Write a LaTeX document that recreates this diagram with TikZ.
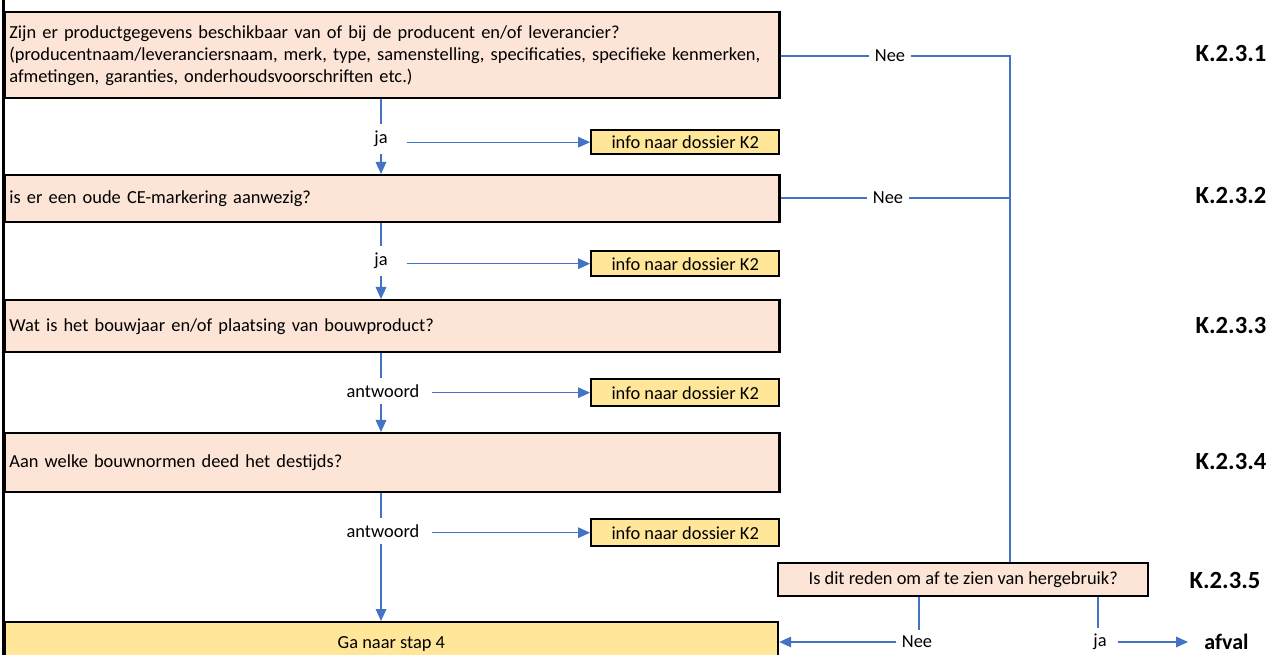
\documentclass[tikz,border=0pt]{standalone}
\usepackage{fontspec}
\setmainfont{Carlito}
\usetikzlibrary{arrows.meta}
\definecolor{peach}{HTML}{FCE4D6}
\definecolor{gold}{HTML}{FFE699}
\definecolor{conn}{HTML}{4472C4}
\begin{document}
\begin{tikzpicture}[x=0.75pt,y=-0.75pt,
  font=\fontsize{13.8}{16.5}\selectfont,
  qbox/.style={draw=black, line width=1.8pt, fill=peach, anchor=north west,
    align=left, text width=574pt, inner xsep=3.5pt, inner ysep=0pt, minimum width=581pt},
  ibox/.style={draw=black, line width=1.8pt, fill=gold, anchor=north west,
    inner sep=0pt, minimum width=141pt},
  lbl/.style={inner xsep=9pt, inner ysep=5pt},
  nlbl/.style={inner xsep=4pt, inner ysep=4pt},
  klbl/.style={font=\fontsize{18.5}{20}\selectfont\bfseries, inner sep=0pt},
  conn/.style={draw=conn, line width=0.8pt},
  arr/.style={conn, -{Triangle[length=9pt, width=8pt]}}]
\clip (0,0) rectangle (1281,655);
\fill[white] (0,0) rectangle (1281,655);
\draw[line width=1.8pt] (3.5,0) -- (3.5,655);
% question boxes
\node[qbox, minimum height=64.5pt] (q1) at (3.5,11) {Zijn er productgegevens beschikbaar van of bij de producent en/of leverancier?\\(producentnaam/leveranciersnaam, merk, type, samenstelling, specificaties, specifieke kenmerken,\\afmetingen, garanties, onderhoudsvoorschriften etc.)};
\node[qbox, minimum height=35.25pt] (q2) at (3.5,174) {is er een oude CE-markering aanwezig?};
\node[qbox, minimum height=39pt] (q3) at (3.5,299) {Wat is het bouwjaar en/of plaatsing van bouwproduct?};
\node[qbox, minimum height=44.25pt] (q4) at (3.5,432) {Aan welke bouwnormen deed het destijds?};
\node[draw=black, line width=1.8pt, fill=gold, anchor=north west, minimum width=580pt, minimum height=32pt, inner sep=0pt] (go) at (3.5,621) {Ga naar stap 4};
\node[draw=black, line width=1.8pt, fill=peach, anchor=north west, minimum width=277.5pt, minimum height=24.75pt, inner sep=0pt] (isdit) at (777,562) {Is dit reden om af te zien van hergebruik?};
% info boxes
\node[ibox, minimum height=18pt] (i1) at (590,129) {info naar dossier K2};
\node[ibox, minimum height=18.75pt] (i2) at (590,250) {info naar dossier K2};
\node[ibox, minimum height=20.25pt] (i3) at (590,378) {info naar dossier K2};
\node[ibox, minimum height=20.25pt] (i4) at (590,518) {info naar dossier K2};
% labels
\node[lbl, inner xsep=14pt] (ja1) at (381,139) {ja};
\node[lbl, inner xsep=14pt] (ja2) at (381,261) {ja};
\node[lbl] (an1) at (383,391) {antwoord};
\node[lbl] (an2) at (383,531) {antwoord};
\node[nlbl] (nee1) at (890,56) {Nee};
\node[nlbl] (nee2) at (888,198) {Nee};
\node[nlbl] (nee3) at (917,642) {Nee};
\node[nlbl, inner xsep=8pt] (ja3) at (1100,642) {ja};
\node[font=\fontsize{16.5}{18}\selectfont\bfseries, inner xsep=12pt, inner ysep=0pt, anchor=west] (afval) at (1188,642) {afval};
\coordinate (cr) at (1010,56);
% K labels
\node[klbl] (k1) at (1231,54) {K.2.3.1};
\node[klbl] (k2) at (1231,196) {K.2.3.2};
\node[klbl] (k3) at (1231,325) {K.2.3.3};
\node[klbl] (k4) at (1231,461) {K.2.3.4};
\node[klbl] (k5) at (1225,580) {K.2.3.5};
% connectors
\draw[conn] (q1.south -| ja1) -- (ja1.north);
\draw[arr] (ja1.south) -- (q2.north -| ja1);
\draw[arr] (ja1.east |- i1.west) -- (i1.west);
\draw[conn] (q2.south -| ja2) -- (ja2.north);
\draw[arr] (ja2.south) -- (q3.north -| ja2);
\draw[arr] (ja2.east |- i2.west) -- (i2.west);
\draw[conn] (q3.south -| ja1) -- (ja1 |- an1.north);
\draw[arr] (ja1 |- an1.south) -- (q4.north -| ja1);
\draw[arr] (an1.east |- i3.west) -- (i3.west);
\draw[conn] (q4.south -| ja1) -- (ja1 |- an2.north);
\draw[arr] (ja1 |- an2.south) -- (go.north -| ja1);
\draw[arr] (an2.east |- i4.west) -- (i4.west);
\draw[conn] (q1.east |- nee1) -- (nee1.west);
\draw[conn] (nee1.east) -- (cr) -- (cr |- isdit.north);
\draw[conn] (q2.east |- nee2) -- (nee2.west);
\draw[conn] (nee2.east) -- (cr |- nee2);
\draw[conn] (isdit.south -| 919,0) -- (919,0 |- nee3.north);
\draw[arr] (nee3.west) -- (go.east |- nee3);
\draw[conn] (isdit.south -| 1098,0) -- (1098,0 |- ja3.north);
\draw[arr] (ja3.east) -- (afval.west);
\end{tikzpicture}
\end{document}
